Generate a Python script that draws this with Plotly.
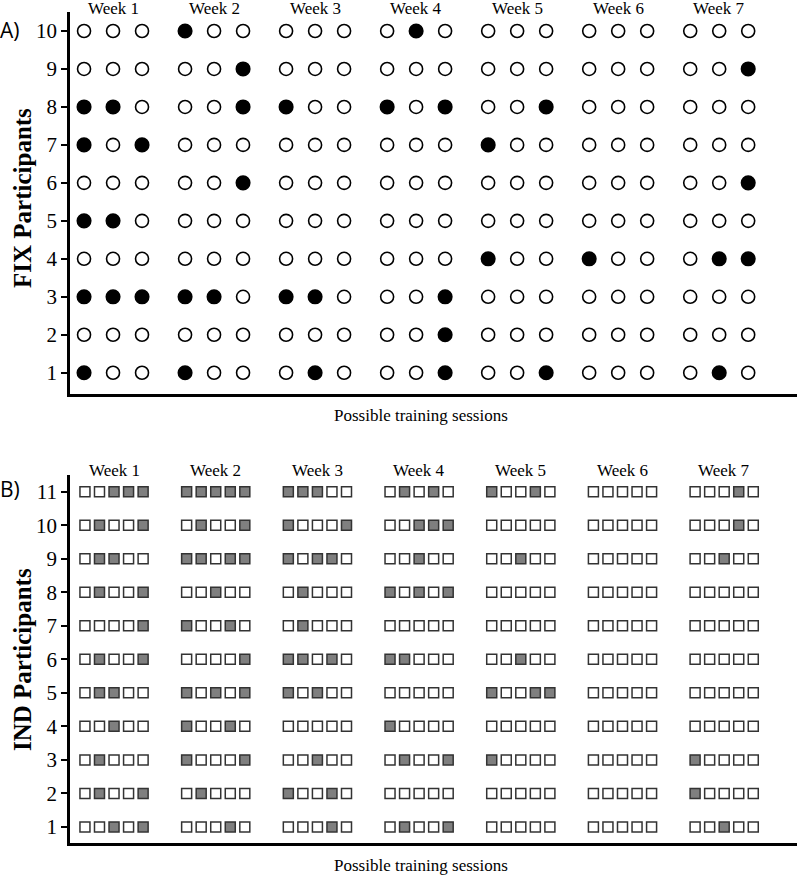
import plotly.graph_objects as go

# attendance per participant, one group of sessions per week (1 = attended)
WEEKS = ["Week 1", "Week 2", "Week 3", "Week 4", "Week 5", "Week 6", "Week 7"]

FIX_PARTICIPANTS = [10, 9, 8, 7, 6, 5, 4, 3, 2, 1]
FIX_ATTENDANCE = [
    "000 100 000 010 000 000 000",
    "000 001 000 000 000 000 001",
    "110 001 100 101 001 000 000",
    "101 000 000 000 100 000 000",
    "000 001 000 000 000 000 001",
    "110 000 000 000 000 000 000",
    "000 000 000 000 100 100 011",
    "111 110 110 001 000 000 000",
    "000 000 000 001 000 000 000",
    "100 100 010 001 001 000 010",
]

IND_PARTICIPANTS = [11, 10, 9, 8, 7, 6, 5, 4, 3, 2, 1]
IND_ATTENDANCE = [
    "00111 11111 11100 01010 10010 00000 00010",
    "01001 01001 10001 00111 00000 00000 00010",
    "01100 11011 10110 00100 00100 00000 00100",
    "01001 00100 01000 10101 00000 00000 00000",
    "00001 10010 01000 00000 00000 00000 00000",
    "01001 00001 11010 11000 00100 00000 00000",
    "01100 10101 10100 00000 10011 00000 00000",
    "00100 10010 00000 10000 00000 00000 00000",
    "01000 10001 00100 01001 10000 00000 10000",
    "01001 01000 10010 00000 00000 00000 10000",
    "00101 00010 00010 01001 00000 00000 00100",
]

SERIF = "Liberation Serif"
FW, FH = 803, 875


def px(x):
    return x / FW


def py(y):
    return 1 - y / FH


def grid_points(participants, attendance, step):
    done_x, done_y, miss_x, miss_y = [], [], [], []
    for p, row in zip(participants, attendance):
        for w, week in enumerate(row.split()):
            n = len(week)
            for s, flag in enumerate(week):
                x = w + (s - (n - 1) / 2) * step
                if flag == "1":
                    done_x.append(x)
                    done_y.append(p)
                else:
                    miss_x.append(x)
                    miss_y.append(p)
    return done_x, done_y, miss_x, miss_y


fig = go.Figure()

# panel A: circles
ax, ay, bx, by = grid_points(FIX_PARTICIPANTS, FIX_ATTENDANCE, 0.287)
fig.add_trace(go.Scatter(x=bx, y=by, mode="markers", xaxis="x", yaxis="y",
                         marker=dict(symbol="circle", size=13, color="white",
                                     line=dict(color="black", width=1.6)),
                         showlegend=False))
fig.add_trace(go.Scatter(x=ax, y=ay, mode="markers", xaxis="x", yaxis="y",
                         marker=dict(symbol="circle", size=13.5, color="black",
                                     line=dict(color="black", width=1.6)),
                         showlegend=False))

# panel B: squares
ax, ay, bx, by = grid_points(IND_PARTICIPANTS, IND_ATTENDANCE, 0.143)
fig.add_trace(go.Scatter(x=bx, y=by, mode="markers", xaxis="x2", yaxis="y2",
                         marker=dict(symbol="square", size=10, color="white",
                                     line=dict(color="#333333", width=1.5)),
                         showlegend=False))
fig.add_trace(go.Scatter(x=ax, y=ay, mode="markers", xaxis="x2", yaxis="y2",
                         marker=dict(symbol="square", size=10, color="#7f7f7f",
                                     line=dict(color="#333333", width=1.5)),
                         showlegend=False))

xcommon = dict(showline=True, linewidth=2.5, linecolor="black", showgrid=False,
               zeroline=False, showticklabels=False, ticks="", automargin=False)
ycommon = dict(showline=True, linewidth=2.5, linecolor="black", showgrid=False,
               zeroline=False, ticks="outside", ticklen=6, tickwidth=2,
               tickcolor="black", automargin=False,
               tickfont=dict(family=SERIF, size=21, color="black"))

fig.update_layout(
    width=FW, height=FH,
    margin=dict(l=0, r=0, t=0, b=0),
    plot_bgcolor="white", paper_bgcolor="white",
    xaxis=dict(xcommon, domain=[px(70), px(797)], range=[-0.426, 6.77], anchor="y"),
    yaxis=dict(ycommon, domain=[py(394), py(12)], range=[0.44, 10.5],
               tickvals=FIX_PARTICIPANTS, anchor="x"),
    xaxis2=dict(xcommon, domain=[px(70), px(797)], range=[-0.433, 6.716], anchor="y2"),
    yaxis2=dict(ycommon, domain=[py(843), py(475)], range=[0.52, 11.5],
                tickvals=IND_PARTICIPANTS, anchor="x2"),
)

annotations = []
for w, label in enumerate(WEEKS):
    annotations.append(dict(x=w, y=py(9), xref="x", yref="paper", text=label,
                            showarrow=False, yanchor="middle",
                            font=dict(family=SERIF, size=17, color="black")))
    annotations.append(dict(x=w, y=py(470), xref="x2", yref="paper", text=label,
                            showarrow=False, yanchor="middle",
                            font=dict(family=SERIF, size=17, color="black")))

for txt, yy in [("A)", 30), ("B)", 489)]:
    annotations.append(dict(x=px(-2), y=py(yy), xref="paper", yref="paper", text=txt,
                            showarrow=False, xanchor="left", yanchor="middle",
                            font=dict(family="Open Sans", size=21, color="black")))

for txt, yy in [("<b>FIX Participants</b>", 198), ("<b>IND Participants</b>", 660)]:
    annotations.append(dict(x=px(22), y=py(yy), xref="paper", yref="paper", text=txt,
                            showarrow=False, textangle=-90, xanchor="center", yanchor="middle",
                            font=dict(family=SERIF, size=25, color="black")))

for yy in [415, 865]:
    annotations.append(dict(x=px(421), y=py(yy), xref="paper", yref="paper",
                            text="Possible training sessions", showarrow=False,
                            yanchor="middle",
                            font=dict(family=SERIF, size=17, color="black")))

fig.update_layout(annotations=annotations)

# drop the default 8px page margin so the figure fills the window
fig.write_html("out.html", config={"displayModeBar": False},
               post_script="document.body.style.margin = '0';")
